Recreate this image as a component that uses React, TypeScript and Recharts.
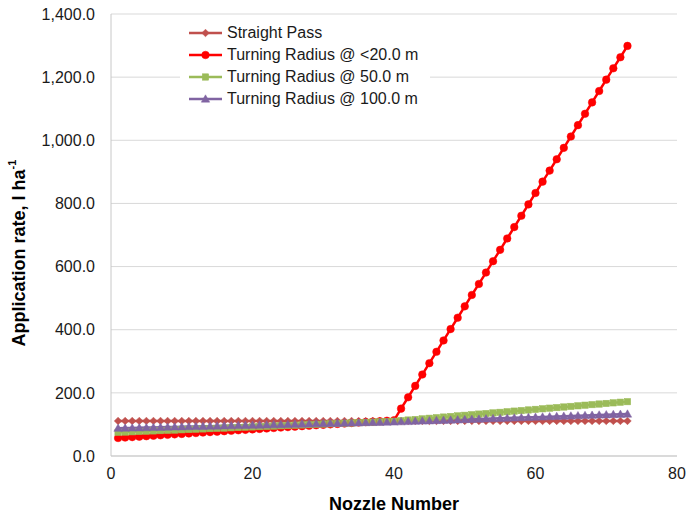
import React from 'react';
import { LineChart, Line, XAxis, YAxis, CartesianGrid } from 'recharts';

const nozzles = [1,2,3,4,5,6,7,8,9,10,11,12,13,14,15,16,17,18,19,20,21,22,23,24,25,26,27,28,29,30,31,32,33,34,35,36,37,38,39,40,41,42,43,44,45,46,47,48,49,50,51,52,53,54,55,56,57,58,59,60,61,62,63,64,65,66,67,68,69,70,71,72,73];

const straightPass = [111,111,111,111,111,111,111,111,111,111,111,111,111,111,111,111,111,111,111,111,111,111,111,111,111,111,111,111,111,111,111,111,111,111,111,111,111,111,111,111,111,111,111,111,111,111,111,111,111,111,111,111,111,111,111,111,111,111,111,111,111,111,111,111,111,111,111,111,111,111,111,111,111];

const radius20 = [57,58.4,59.9,61.3,62.7,64.2,65.6,67.1,68.5,69.9,71.4,72.8,74.3,75.7,77.1,78.6,80.0,81.5,82.9,84.3,85.8,87.2,88.6,90.1,91.5,93.0,94.4,95.8,97.3,98.7,100.2,101.6,103.0,104.5,105.9,107.4,108.8,110.2,111.7,113.1,150,186,222,258,294,330,366,402,438,474,510,545,581,617,653,689,725,761,797,833,869,904,940,976,1012,1048,1084,1120,1156,1192,1228,1263,1299];

const radius50 = [75.0,75.9,76.8,77.7,78.6,79.5,80.4,81.3,82.2,83.1,84.0,84.9,85.8,86.7,87.6,88.5,89.4,90.3,91.2,92.1,93.0,93.9,94.8,95.7,96.6,97.5,98.4,99.3,100.2,101.1,102.0,102.9,103.8,104.7,105.6,106.5,107.4,108.3,109.2,110.1,112.0,113.9,115.7,117.6,119.5,121.4,123.3,125.1,127.0,128.9,130.8,132.7,134.5,136.4,138.3,140.2,142.1,143.9,145.8,147.7,149.6,151.5,153.3,155.2,157.1,159.0,160.9,162.7,164.6,166.5,168.4,170.3,172.1];

const radius100 = [88.0,88.5,89.0,89.5,90.0,90.6,91.1,91.6,92.1,92.6,93.1,93.6,94.1,94.6,95.1,95.7,96.2,96.7,97.2,97.7,98.2,98.7,99.2,99.7,100.2,100.8,101.3,101.8,102.3,102.8,103.3,103.8,104.3,104.8,105.3,105.9,106.4,106.9,107.4,107.9,108.7,109.4,110.2,111.0,111.7,112.5,113.2,114.0,114.8,115.5,116.3,117.0,117.8,118.6,119.3,120.1,120.8,121.6,122.4,123.1,123.9,124.6,125.4,126.2,126.9,127.7,128.4,129.2,130.0,130.7,131.5,132.2,133.0];

const xTicks = [0, 20, 40, 60, 80];
const yTicks = [0, 200, 400, 600, 800, 1000, 1200, 1400];

const seriesNames = ['Straight Pass', 'Turning Radius @ <20.0 m', 'Turning Radius @ 50.0 m', 'Turning Radius @ 100.0 m'];
const seriesKeys = ['straight', 'r20', 'r50', 'r100'];
const seriesColors = ['#C0504D', '#FF0000', '#9BBB59', '#8064A2'];
const seriesShapes = ['diamond', 'circle', 'square', 'triangle'];

const data = nozzles.map((n, i) => ({
  n,
  straight: straightPass[i],
  r20: radius20[i],
  r50: radius50[i],
  r100: radius100[i],
}));

const FONT = '"Liberation Sans", Arial, sans-serif';

function markerShape(shape: string, cx: number, cy: number, color: string, key?: any) {
  if (shape === 'diamond') {
    const s = 3.8;
    return <path key={key} d={`M${cx},${cy - s}L${cx + s},${cy}L${cx},${cy + s}L${cx - s},${cy}Z`} fill={color} stroke={color} strokeWidth={0.5} />;
  }
  if (shape === 'circle') {
    return <circle key={key} cx={cx} cy={cy} r={3.8} fill={color} stroke={color} strokeWidth={0.5} />;
  }
  if (shape === 'square') {
    const s = 3.2;
    return <rect key={key} x={cx - s} y={cy - s} width={2 * s} height={2 * s} fill={color} stroke={color} strokeWidth={0.5} />;
  }
  const s = 4.2;
  return <path key={key} d={`M${cx},${cy - s}L${cx + s},${cy + s * 0.75}L${cx - s},${cy + s * 0.75}Z`} fill={color} stroke={color} strokeWidth={0.5} />;
}

const makeDot = (shape: string, color: string) => (props: any) => {
  const { cx, cy, index } = props;
  if (cx == null || cy == null) return <g key={`d-${index}`} />;
  return markerShape(shape, cx, cy, color, `${shape}-${index}`);
};

const LegendBox = () => (
  <div style={{ position: 'absolute', left: 180, top: 22, width: 250, background: '#fff', padding: '0 0 2px 8px', boxSizing: 'border-box', fontFamily: FONT, fontSize: 16, color: '#1a1a1a' }}>
    {seriesNames.map((name, i) => (
      <div key={name} style={{ display: 'flex', alignItems: 'center', height: 21.9 }}>
        <svg width={36} height={12} style={{ marginRight: 3 }}>
          <line x1={1} y1={6} x2={34} y2={6} stroke={seriesColors[i]} strokeWidth={2.5} />
          {markerShape(seriesShapes[i], 17.5, 6, seriesColors[i])}
        </svg>
        <span style={{ whiteSpace: 'nowrap' }}>{name}</span>
      </div>
    ))}
  </div>
);

const fmt = (v: number) => v.toLocaleString('en-US', { minimumFractionDigits: 1, maximumFractionDigits: 1 });

const YLabel = (props: any) => {
  const vb = props.viewBox || { x: 0, y: 14, width: 111, height: 442 };
  const cx = vb.x + 19;
  const cy = vb.y + vb.height / 2 + 18;
  return (
    <text x={cx} y={cy} transform={`rotate(-90, ${cx}, ${cy})`} textAnchor="middle" dominantBaseline="central"
      fontFamily={FONT} fontSize={18} fontWeight="bold" fill="#000">
      Application rate, l ha<tspan dy={-7} fontSize={11}>-1</tspan>
    </text>
  );
};

const XLabel = (props: any) => {
  const vb = props.viewBox || { x: 111, y: 456, width: 566, height: 60 };
  return (
    <text x={vb.x + vb.width / 2} y={vb.y + 48} textAnchor="middle" dominantBaseline="central"
      fontFamily={FONT} fontSize={18} fontWeight="bold" fill="#000">
      Nozzle Number
    </text>
  );
};

export default function App() {
  return (
    <div style={{ position: 'absolute', left: 0, top: 0, width: 686, height: 516, background: '#fff' }}>
      <LineChart width={686} height={516} data={data} margin={{ top: 14, right: 9, left: 0, bottom: 0 }}>
        <CartesianGrid horizontal={true} vertical={false} stroke="#D9D9D9" strokeWidth={1} />
        <XAxis
          type="number"
          dataKey="n"
          domain={[0, 80]}
          ticks={xTicks}
          height={60}
          axisLine={{ stroke: '#C8C8C8', strokeWidth: 1 }}
          tickLine={false}
          tickSize={0}
          tickMargin={12}
          tick={{ fontFamily: FONT, fontSize: 16, fill: '#1a1a1a' }}
          label={<XLabel />}
        />
        <YAxis
          type="number"
          domain={[0, 1400]}
          ticks={yTicks}
          width={111}
          axisLine={{ stroke: '#C8C8C8', strokeWidth: 1 }}
          tickLine={false}
          tickSize={0}
          tickMargin={16}
          tickFormatter={fmt}
          tick={{ fontFamily: FONT, fontSize: 16, fill: '#1a1a1a' }}
          label={<YLabel />}
        />
        {seriesKeys.map((k, i) => (
          <Line
            key={k}
            type="linear"
            dataKey={k}
            name={seriesNames[i]}
            stroke={seriesColors[i]}
            strokeWidth={2.5}
            dot={makeDot(seriesShapes[i], seriesColors[i])}
            activeDot={false}
            isAnimationActive={false}
          />
        ))}
      </LineChart>
      <LegendBox />
    </div>
  );
}
